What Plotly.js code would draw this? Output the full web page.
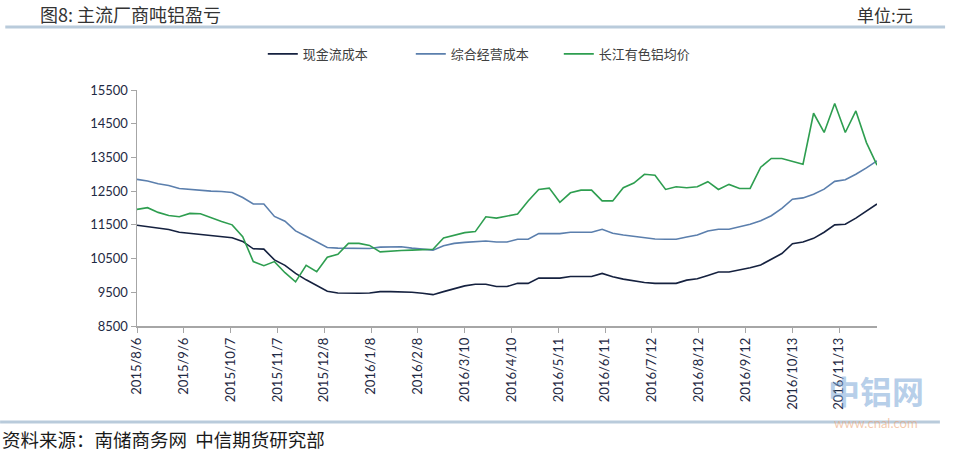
<!DOCTYPE html>
<html>
<head>
<meta charset="utf-8">
<script src="https://cdn.plot.ly/plotly-3.0.1.min.js"></script>
<style>
  body { margin: 0; background: #fff; }
  #chart { width: 954px; height: 451px; }
</style>
</head>
<body>
<div id="chart"></div>
<script>
// weekly dates (Thursdays)
var dates = [
  '2015-08-06','2015-08-13','2015-08-20','2015-08-27','2015-09-03','2015-09-10','2015-09-17','2015-09-24',
  '2015-10-01','2015-10-08','2015-10-15','2015-10-22','2015-10-29','2015-11-05','2015-11-12','2015-11-19',
  '2015-11-26','2015-12-03','2015-12-10','2015-12-17','2015-12-24','2015-12-31','2016-01-07','2016-01-14',
  '2016-01-21','2016-01-28','2016-02-04','2016-02-11','2016-02-18','2016-02-25','2016-03-03','2016-03-10',
  '2016-03-17','2016-03-24','2016-03-31','2016-04-07','2016-04-14','2016-04-21','2016-04-28','2016-05-05',
  '2016-05-12','2016-05-19','2016-05-26','2016-06-02','2016-06-09','2016-06-16','2016-06-23','2016-06-30',
  '2016-07-07','2016-07-14','2016-07-21','2016-07-28','2016-08-04','2016-08-11','2016-08-18','2016-08-25',
  '2016-09-01','2016-09-08','2016-09-15','2016-09-22','2016-09-29','2016-10-06','2016-10-13','2016-10-20',
  '2016-10-27','2016-11-03','2016-11-10','2016-11-17','2016-11-24','2016-12-01','2016-12-08'
];

// 现金流成本
var cashCost = [
  11490, 11440, 11400, 11360, 11280, 11250, 11220, 11180, 11150, 11120,
  11010, 10790, 10780, 10460, 10300, 10060, 9870, 9710, 9530, 9480,
  9470, 9470, 9480, 9520, 9520, 9520, 9500, 9470, 9430, 9520,
  9610, 9690, 9740, 9740, 9670, 9670, 9765, 9765, 9920, 9920,
  9920, 9970, 9970, 9970, 10060, 9960, 9890, 9835, 9790, 9765,
  9765, 9765, 9860, 9900, 10000, 10100, 10100, 10160, 10230, 10310,
  10480, 10650, 10940, 10990, 11100, 11280, 11500, 11520, 11700, 11900,
  12120
];

// 综合经营成本
var totalCost = [
  12850, 12800, 12720, 12670, 12580, 12550, 12510, 12500, 12490, 12460,
  12310, 12120, 12120, 11750, 11610, 11320, 11160, 11000, 10830, 10810,
  10800, 10790, 10800, 10840, 10840, 10850, 10810, 10780, 10750, 10880,
  10950, 10980, 10990, 11020, 10990, 10990, 11075, 11075, 11240, 11240,
  11240, 11280, 11280, 11280, 11370, 11250, 11200, 11160, 11120, 11080,
  11075, 11075, 11140, 11200, 11320, 11370, 11370, 11440, 11520, 11620,
  11770, 11990, 12260, 12300, 12410, 12560, 12790, 12840, 13000, 13190,
  13400
];

// 长江有色铝均价
var alPrice = [
  11960, 12010, 11870, 11780, 11740, 11840, 11830, 11710, 11600, 11500,
  11150, 10410, 10290, 10410, 10080, 9810, 10300, 10110, 10540, 10630,
  10950, 10950, 10890, 10700, 10730, 10740, 10750, 10760, 10775, 11110,
  11180, 11270, 11300, 11740, 11700, 11750, 11820, 12210, 12550, 12590,
  12170, 12450, 12530, 12530, 12210, 12210, 12600, 12740, 13000, 12970,
  12550, 12630, 12600, 12630, 12780, 12550, 12700, 12580, 12580, 13210,
  13470, 13470, 13390, 13300, 14810, 14240, 15100, 14240, 14880, 13940,
  13270
];

var tickDates = [
  '2015-08-06','2015-09-06','2015-10-07','2015-11-07','2015-12-08','2016-01-08','2016-02-08','2016-03-10',
  '2016-04-10','2016-05-11','2016-06-11','2016-07-12','2016-08-12','2016-09-12','2016-10-13','2016-11-13'
];
var tickLabels = [
  '2015/8/6','2015/9/6','2015/10/7','2015/11/7','2015/12/8','2016/1/8','2016/2/8','2016/3/10',
  '2016/4/10','2016/5/11','2016/6/11','2016/7/12','2016/8/12','2016/9/12','2016/10/13','2016/11/13'
];
var yTicks = [8500, 9500, 10500, 11500, 12500, 13500, 14500, 15500];
var yLabels = ['8500', '9500', '10500', '11500', '12500', '13500', '14500', '15500'];

var cjk = '"Noto Sans CJK SC", "Noto Sans", sans-serif';
var num = 'Lato, "Liberation Sans", sans-serif';

var traces = [
  {x: dates, y: cashCost, name: '现金流成本', type: 'scatter', mode: 'lines',
   line: {color: '#15213f', width: 1.6}},
  {x: dates, y: totalCost, name: '综合经营成本', type: 'scatter', mode: 'lines',
   line: {color: '#5b7fad', width: 1.6}},
  {x: dates, y: alPrice, name: '长江有色铝均价', type: 'scatter', mode: 'lines',
   line: {color: '#2e9e50', width: 1.6}}
];

var layout = {
  width: 954,
  height: 451,
  margin: {l: 137, r: 77, t: 90, b: 125},
  paper_bgcolor: '#fff',
  plot_bgcolor: '#fff',
  showlegend: true,
  legend: {
    orientation: 'h', x: 0.17, y: 1.153, xanchor: 'left', yanchor: 'middle',
    entrywidth: 103,
    font: {family: cjk, size: 13, color: '#404040'}
  },
  xaxis: {
    type: 'date',
    range: ['2015-08-06', '2016-12-08'],
    tickvals: tickDates,
    ticktext: tickLabels,
    tickangle: -90,
    tickfont: {family: num, size: 13, color: '#1f2a44'},
    ticks: 'outside', ticklen: 5, tickcolor: '#a6a6a6',
    showline: true, linecolor: '#a6a6a6', linewidth: 1.5,
    showgrid: false, zeroline: false
  },
  yaxis: {
    range: [8500, 15500],
    tickvals: yTicks,
    ticktext: yLabels,
    tickfont: {family: num, size: 13, color: '#1f2a44'},
    ticks: 'outside', ticklen: 5, tickcolor: '#a6a6a6',
    showline: true, linecolor: '#a6a6a6', linewidth: 1.5,
    showgrid: false, zeroline: false
  },
  shapes: [
    {type: 'line', xref: 'paper', yref: 'paper', x0: -0.178, x1: 1.092, y0: 1.267, y1: 1.267,
     line: {color: '#b9cbdb', width: 3}},
    {type: 'line', xref: 'paper', yref: 'paper', x0: -0.185, x1: 1.085, y0: -0.407, y1: -0.407,
     line: {color: '#b9cbdb', width: 3}}
  ],
  annotations: [
    {text: '图8: 主流厂商吨铝盈亏', xref: 'paper', yref: 'paper', x: -0.134, y: 1.322,
     xanchor: 'left', yanchor: 'middle', showarrow: false,
     font: {family: cjk, size: 18, color: '#333333'}},
    {text: '单位:元', xref: 'paper', yref: 'paper', x: 1.052, y: 1.322,
     xanchor: 'right', yanchor: 'middle', showarrow: false,
     font: {family: cjk, size: 17, color: '#333333'}},
    {text: '资料来源：南储商务网  中信期货研究部', xref: 'paper', yref: 'paper', x: -0.185, y: -0.478,
     xanchor: 'left', yanchor: 'middle', showarrow: false,
     font: {family: cjk, size: 18.5, color: '#1a1a1a'}},
    {text: '<b>中铝网</b>', xref: 'paper', yref: 'paper', x: 0.998, y: -0.27,
     xanchor: 'center', yanchor: 'middle', showarrow: false,
     font: {family: cjk, size: 32, color: 'rgba(120,165,215,0.55)'}},
    {text: 'www.cnal.com', xref: 'paper', yref: 'paper', x: 0.998, y: -0.41,
     xanchor: 'center', yanchor: 'middle', showarrow: false,
     font: {family: num, size: 13, color: 'rgba(235,165,120,0.6)'}}
  ]
};

Plotly.newPlot('chart', traces, layout, {displayModeBar: false, staticPlot: true});
</script>
</body>
</html>
